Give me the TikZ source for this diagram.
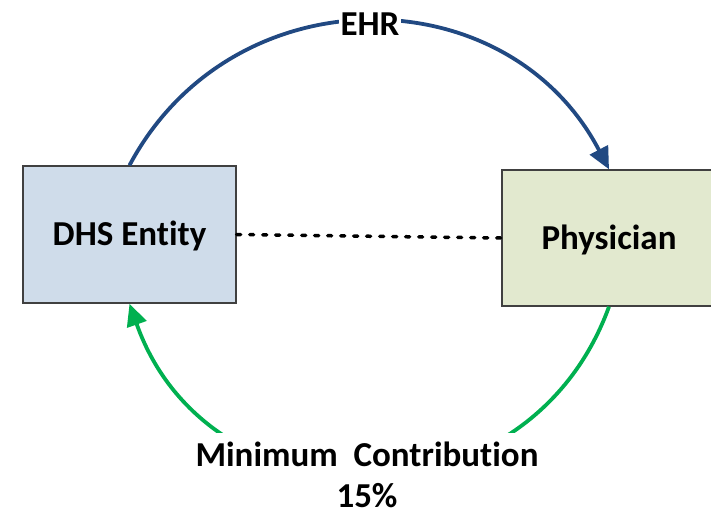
\documentclass[tikz,border=0pt]{standalone}
\usepackage{fontspec}
\setmainfont{Carlito}[Ligatures=CommonOff]
\usetikzlibrary{arrows.meta}
\definecolor{arcblue}{RGB}{33,73,130}
\definecolor{arcgreen}{RGB}{0,176,80}
\definecolor{dhsfill}{RGB}{207,220,234}
\definecolor{physfill}{RGB}{226,233,207}
\definecolor{boxline}{RGB}{64,64,64}
\tikzset{
  entitybox/.style={draw=boxline, line width=1.4pt, minimum height=137pt, inner sep=0pt,
    text height=22.5pt, text depth=0pt,
    font=\fontsize{35}{40}\selectfont\bfseries},
  flowblue/.style={draw=arcblue, line width=3.8pt, -{Triangle[length=22pt,width=20pt]}},
  flowgreen/.style={draw=arcgreen, line width=3.8pt, -{Triangle[length=22pt,width=20pt]}},
  arclabel/.style={fill=white, font=\fontsize{35}{41}\selectfont\bfseries, align=center},
  linkline/.style={draw=black, line width=3.5pt, line cap=round, dash pattern=on 4pt off 9pt}
}
\begin{document}
\begin{tikzpicture}[x=1pt,y=-1pt]
\useasboundingbox (0,0) rectangle (711,510);
\node[entitybox, fill=dhsfill, minimum width=213pt] (dhs) at (129.5,234.5) {DHS Entity};
\node[entitybox, fill=physfill, minimum width=214pt, minimum height=136pt] (phys) at (609,238) {Physician};
\draw[linkline] (dhs.east) -- (phys.west);
\draw[flowblue] (dhs.north) .. controls (232,-27) and (507,-26) .. (phys.north);
\draw[flowgreen] (phys.south) .. controls (527,532) and (209,529) .. (dhs.south);
\node[arclabel, inner sep=2pt] (ehr) at (370,24) {EHR};
\node[arclabel, inner xsep=6pt, inner ysep=0pt, anchor=north] (contrib) at (367,432.7)
  {\rule{0pt}{34pt}Minimum\ \ Contribution\\15\%};
\end{tikzpicture}
\end{document}
